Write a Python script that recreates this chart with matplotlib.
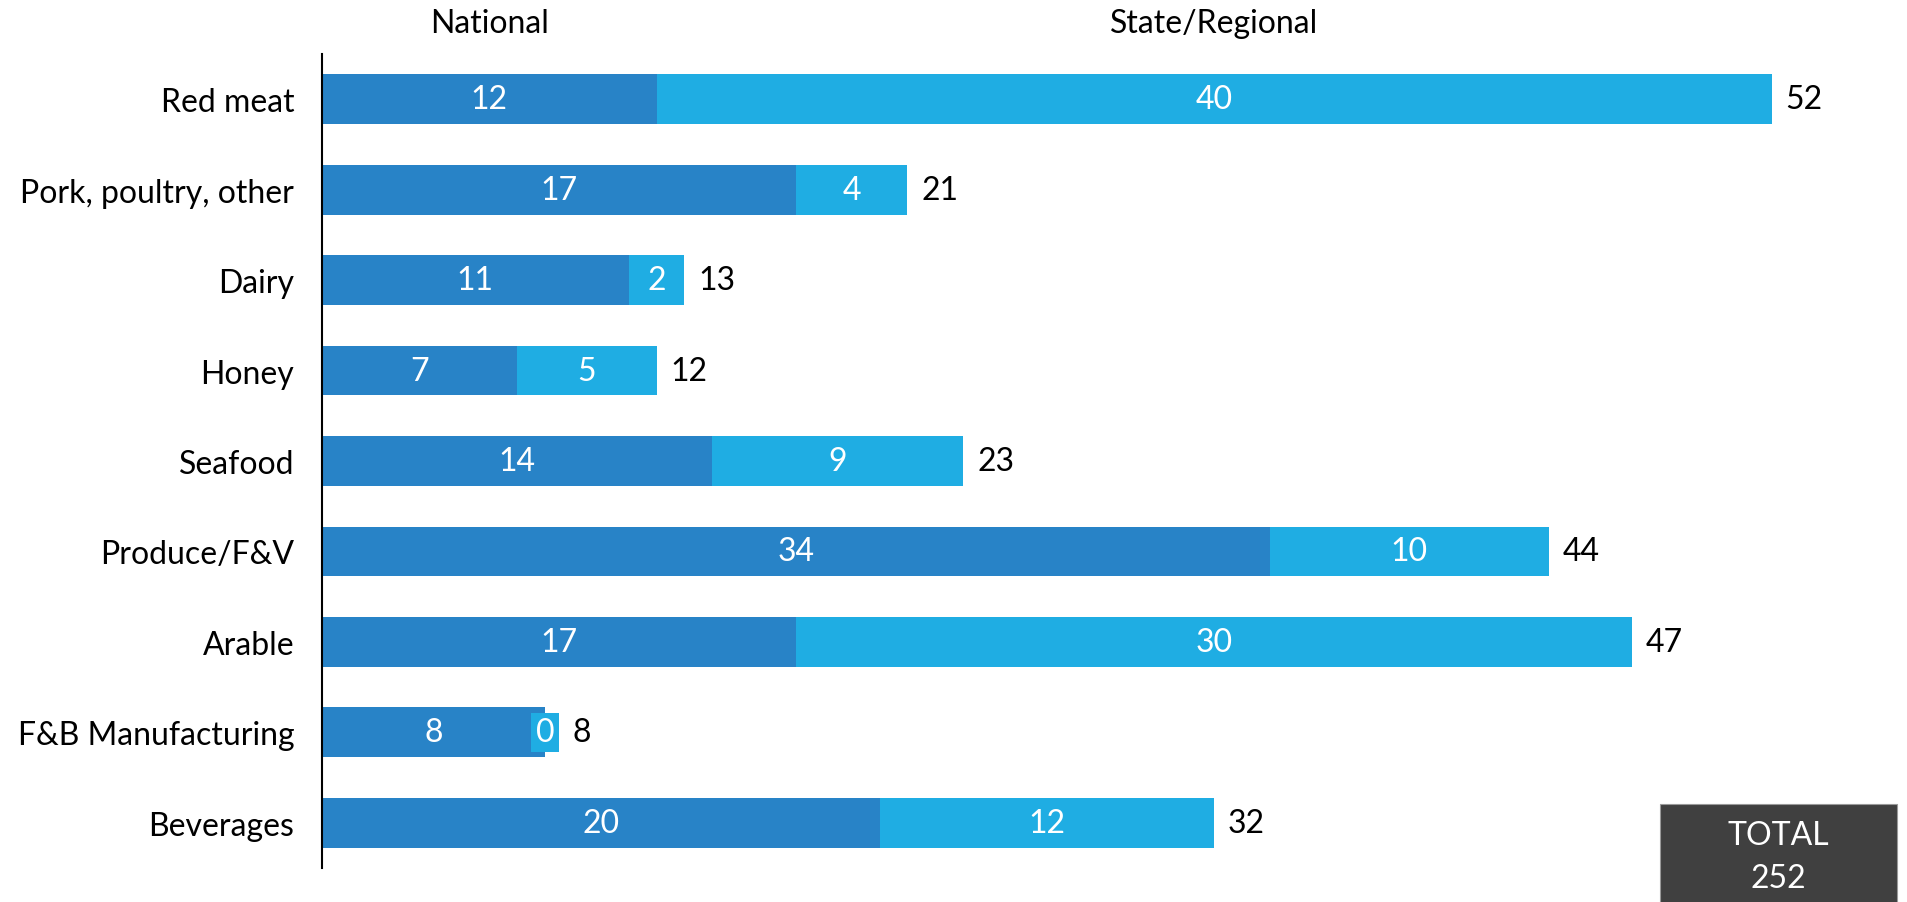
import matplotlib.pyplot as plt
from matplotlib.patches import Rectangle

plt.rcParams['font.family'] = ['Lato', 'DejaVu Sans']

# Number of companies per sector, split by reach
categories = ["Red meat", "Pork, poultry, other", "Dairy", "Honey", "Seafood",
              "Produce/F&V", "Arable", "F&B Manufacturing", "Beverages"]
national = [12, 17, 11, 7, 14, 34, 17, 8, 20]
state_regional = [40, 4, 2, 5, 9, 10, 30, 0, 12]
series_names = ["National", "State/Regional"]

dark_blue = "#2883C7"
light_blue = "#1FADE3"
fs = 23

fig = plt.figure(figsize=(19.08, 9.03), dpi=100)
ax = fig.add_axes([322 / 1908, 34 / 903, 1589 / 1908, 814 / 903])

y = range(len(categories))
ax.barh(y, national, height=0.55, color=dark_blue)
ax.barh(y, state_regional, left=national, height=0.55, color=light_blue)

for i, (n, s) in enumerate(zip(national, state_regional)):
    ax.text(n / 2, i, str(n), color="white", ha="center", va="center", fontsize=fs)
    offset = 10
    if s > 0:
        ax.text(n + s / 2, i, str(s), color="white", ha="center", va="center", fontsize=fs)
    else:
        # empty segment still gets a small tag
        ax.text(n, i, str(s), color="white", ha="center", va="center", fontsize=fs,
                bbox=dict(boxstyle="square,pad=0.15", facecolor=light_blue, edgecolor="none"))
        offset = 20
    ax.annotate(str(n + s), (n + s, i), xytext=(offset, 0), textcoords="offset points",
                ha="left", va="center", fontsize=fs, color="black")

# column headers sit above the first row's segments
ax.text(national[0] / 2, 1.038, series_names[0], transform=ax.get_xaxis_transform(),
        ha="center", va="center", fontsize=fs)
ax.text(national[0] + state_regional[0] / 2, 1.038, series_names[1],
        transform=ax.get_xaxis_transform(), ha="center", va="center", fontsize=fs)

ax.set_xlim(0, 57)
ax.set_ylim(len(categories) - 0.5, -0.5)
ax.set_yticks(list(y))
ax.set_yticklabels(categories, fontsize=fs)
ax.tick_params(axis="y", length=0, pad=20)
ax.set_xticks([])
for side in ["top", "right", "bottom"]:
    ax.spines[side].set_visible(False)
ax.spines["left"].set_linewidth(1.5)

# total box in the bottom right corner
total = sum(national) + sum(state_regional)
fig.patches.append(Rectangle((1660 / 1908, -0.02), 237 / 1908, 0.1285,
                             transform=fig.transFigure, facecolor="#404040",
                             edgecolor="#9a9a9a", linewidth=0.8))
fig.text(0.9321, 0.0745, "TOTAL", color="white", ha="center", va="center", fontsize=fs)
fig.text(0.9321, 0.0265, str(total), color="white", ha="center", va="center", fontsize=fs)

fig.savefig("out.png", dpi=100)
